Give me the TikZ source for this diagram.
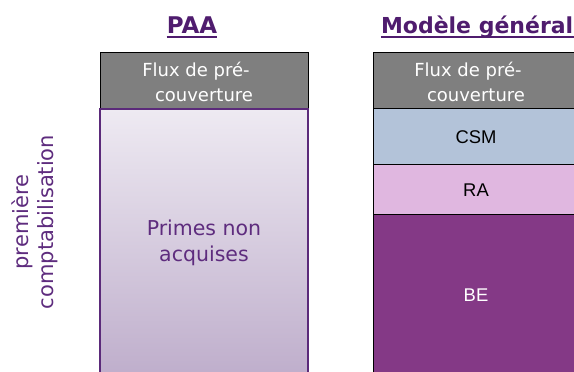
\documentclass[tikz,border=0pt]{standalone}
\usepackage{fontspec}
\setmainfont{DejaVu Sans}
\newfontfamily\arialf{Liberation Sans}
\definecolor{titlepurple}{HTML}{4F1C6E}
\definecolor{txtpurple}{HTML}{5E2C7E}
\definecolor{hdrgrey}{HTML}{7F7F7F}
\definecolor{csmblue}{HTML}{B3C3D9}
\definecolor{rapink}{HTML}{E0B7E0}
\definecolor{bepurple}{HTML}{843986}
\definecolor{gradtop}{HTML}{EEEAF2}
\definecolor{gradbot}{HTML}{BEADCB}
\definecolor{borderpurple}{HTML}{5B2A7A}
\begin{document}
\begin{tikzpicture}[x=1pt,y=-1pt,
  title/.style={font=\fontsize{22}{26}\selectfont\bfseries, text=titlepurple, inner sep=0pt},
  hdrtext/.style={font=\fontsize{18}{25}\selectfont, text=white, align=center},
  mgtext/.style={font=\arialf\fontsize{18.4}{20}\selectfont}]
\useasboundingbox (0,0) rectangle (574,372);
\clip (0,0) rectangle (574,372);
% left column
\draw[black, line width=1pt, fill=hdrgrey] (100,52.5) rectangle (308,108.5);
\node[hdrtext] (h1) at (204,82) {Flux de pré-\hspace*{16pt}\\couverture};
\shade[top color=gradtop, bottom color=gradbot] (100,109) rectangle (308,380);
\draw[borderpurple, line width=1.2pt] (100,380) -- (100,109) -- (308,109) -- (308,380);
\node[font=\fontsize{20.5}{26}\selectfont, text=txtpurple, align=center] (paa) at (204,243) {Primes non\\acquises};
% right column
\draw[black, line width=1pt, fill=hdrgrey] (373,52.5) rectangle (580,108.5);
\node[hdrtext] (h2) at (476,82) {Flux de pré-\hspace*{16pt}\\couverture};
\draw[black, line width=1pt, fill=csmblue] (373,108.5) rectangle (580,164.5);
\node[mgtext] (csm) at (476,137) {CSM};
\draw[black, line width=1pt, fill=rapink] (373,164.5) rectangle (580,214.5);
\node[mgtext] (ra) at (476,190) {RA};
\draw[black, line width=1pt, fill=bepurple] (373,214.5) rectangle (580,380);
\node[mgtext, text=white] (be) at (476,295) {BE};
% titles
\node[title, anchor=base, font=\fontsize{23}{26}\selectfont\bfseries] (t1) at (192,33.5) {PAA};
\draw[titlepurple, line width=1.5pt] (t1.south west |- 0,37) -- (t1.south east |- 0,37);
\node[title, anchor=base east] (t2) at (573.5,33.5) {Modèle général};
\draw[titlepurple, line width=1.5pt] (t2.south west |- 0,37) -- (t2.south east |- 0,37);
% side label
\node[rotate=90, font=\fontsize{21}{25}\selectfont, text=txtpurple, align=center] (side) at (34.5,222) {première\\comptabilisation};
\end{tikzpicture}
\end{document}
